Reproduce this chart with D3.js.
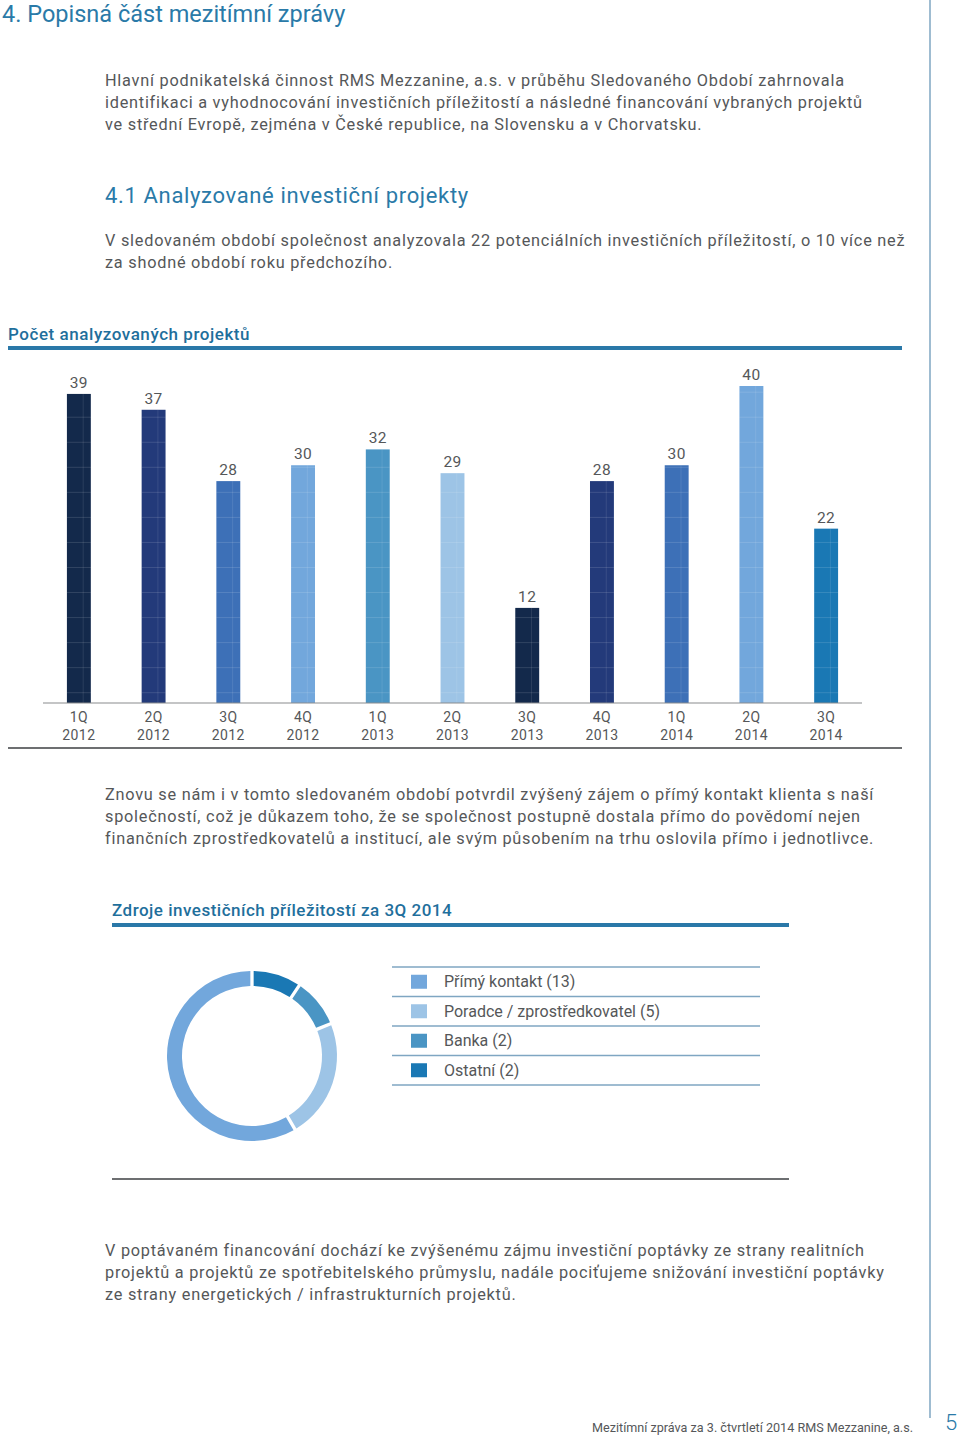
<!DOCTYPE html>
<html><head><meta charset="utf-8">
<script src="https://cdn.jsdelivr.net/npm/d3@7"></script>
<style>body{margin:0;background:#fff}svg{display:block}</style>
</head><body>
<svg id="page" width="960" height="1436"></svg>
<script>
// ---- data ----
const quarters = ["1Q","2Q","3Q","4Q","1Q","2Q","3Q","4Q","1Q","2Q","3Q"];
const years = ["2012","2012","2012","2012","2013","2013","2013","2013","2014","2014","2014"];
const projectCounts = [39,37,28,30,32,29,12,28,30,40,22];
const barColors = ["#13294b","#233a7a","#3d70b7","#72a7dc","#4a95c4","#9dc4e6","#13294b","#233a7a","#3d70b7","#72a7dc","#1a78b4"];
const sourceLabels = ["Přímý kontakt (13)","Poradce / zprostředkovatel (5)","Banka (2)","Ostatní (2)"];
const sourceValues = [13,5,2,2];
const sourceColors = ["#72a7dc","#9dc4e6","#4a95c4","#1a78b4"];
const donutOrder = [3,2,1,0]; // clockwise from top: Ostatní, Banka, Poradce, Přímý kontakt

const para1 = ["Hlavní podnikatelská činnost RMS Mezzanine, a.s. v průběhu Sledovaného Období zahrnovala",
"identifikaci a vyhodnocování investičních příležitostí a následné financování vybraných projektů",
"ve střední Evropě, zejména v České republice, na Slovensku a v Chorvatsku."];
const para2 = ["V sledovaném období společnost analyzovala 22 potenciálních investičních příležitostí, o 10 více než",
"za shodné období roku předchozího."];
const para3 = ["Znovu se nám i v tomto sledovaném období potvrdil zvýšený zájem o přímý kontakt klienta s naší",
"společností, což je důkazem toho, že se společnost postupně dostala přímo do povědomí nejen",
"finančních zprostředkovatelů a institucí, ale svým působením na trhu oslovila přímo i jednotlivce."];
const para4 = ["V poptávaném financování dochází ke zvýšenému zájmu investiční poptávky ze strany realitních",
"projektů a projektů ze spotřebitelského průmyslu, nadále pociťujeme snižování investiční poptávky",
"ze strany energetických / infrastrukturních projektů."];

const FONT = "Roboto, 'Open Sans', sans-serif";
const TXT = "#555759";
const BLUE = "#2a7aa8";
const svg = d3.select("#page").style("font-family", FONT);

// page frame
svg.append("line").attr("x1",930).attr("x2",930).attr("y1",0).attr("y2",1418)
  .attr("stroke","#7fa6c2").attr("stroke-width",1.5);
svg.append("text").attr("x",945).attr("y",1430).attr("font-size",22).attr("font-weight",300)
  .attr("fill",BLUE).text("5");
svg.append("text").attr("x",913).attr("y",1432).attr("text-anchor","end").attr("font-size",12.6)
  .attr("fill",TXT).text("Mezitímní zpráva za 3. čtvrtletí 2014 RMS Mezzanine, a.s.");

svg.append("text").attr("x",2).attr("y",22).attr("font-size",23.5).attr("fill",BLUE)
  .text("4. Popisná část mezitímní zprávy");
svg.append("text").attr("x",105).attr("y",203).attr("font-size",22).attr("letter-spacing",0.65).attr("fill",BLUE)
  .text("4.1 Analyzované investiční projekty");

function para(lines, x, y0){
  lines.forEach((l,i)=>{
    svg.append("text").attr("x",x).attr("y",y0+i*22).attr("font-size",16.3)
      .attr("letter-spacing",0.76).attr("fill",TXT).text(l);
  });
}
para(para1,105,86);
para(para2,105,246);
para(para3,105,800);
para(para4,105,1256);

// ---- bar chart ----
const bx = d3.scaleBand().domain(d3.range(projectCounts.length)).range([43,862]).paddingInner(0.68).paddingOuter(0.32);
const by = d3.scaleLinear().domain([0,40]).range([703,386]);

svg.append("text").attr("x",8).attr("y",340).attr("font-size",17).attr("font-weight",500)
  .attr("letter-spacing",0.55).attr("fill","#1f6f9c").text("Počet analyzovaných projektů");
svg.append("rect").attr("x",8).attr("y",346).attr("width",894).attr("height",4).attr("fill","#2a78a8");

const g = svg.append("g");
g.selectAll("rect.bar").data(projectCounts).join("rect").attr("class","bar")
  .attr("x",(d,i)=>bx(i)).attr("width",bx.bandwidth())
  .attr("y",d=>by(d)).attr("height",d=>by(0)-by(d))
  .attr("fill",(d,i)=>barColors[i]);
// faint grid lines visible on bars
const gridVals = d3.range(1.3,40,3.16);
projectCounts.forEach((d,i)=>{
  gridVals.filter(v=>v<d).forEach(v=>{
    g.append("line").attr("x1",bx(i)).attr("x2",bx(i)+bx.bandwidth())
      .attr("y1",by(v)).attr("y2",by(v)).attr("stroke","#fff").attr("stroke-opacity",0.13);
  });
  g.append("line").attr("x1",bx(i)+bx.bandwidth()*0.68).attr("x2",bx(i)+bx.bandwidth()*0.68)
    .attr("y1",by(d)).attr("y2",by(0)).attr("stroke","#fff").attr("stroke-opacity",0.1);
});
g.selectAll("text.val").data(projectCounts).join("text").attr("class","val")
  .attr("x",(d,i)=>bx(i)+bx.bandwidth()/2).attr("y",d=>by(d)-6)
  .attr("text-anchor","middle").attr("font-size",15.5).attr("letter-spacing",0.4).attr("fill",TXT).text(d=>d);

const xAxis = d3.axisBottom(bx).tickSize(0).tickFormat(()=> "");
const ax = svg.append("g").attr("transform","translate(0,703)").call(xAxis);
ax.select(".domain").attr("stroke","#8a8c8e").attr("stroke-width",1.2).attr("d","M43,0H862");
ax.selectAll(".tick").each(function(i){
  const t = d3.select(this).select("text").attr("fill",TXT).attr("font-size",14).attr("letter-spacing",0.4)
    .attr("font-family",FONT).attr("dy",null).attr("y",null);
  t.text(null);
  t.append("tspan").attr("x",0).attr("y",19).text(quarters[i]);
  t.append("tspan").attr("x",0).attr("y",37).text(years[i]);
});
svg.append("rect").attr("x",8).attr("y",747).attr("width",894).attr("height",2).attr("fill","#6d6f71");

// ---- donut ----
svg.append("text").attr("x",112).attr("y",916).attr("font-size",17).attr("font-weight",500)
  .attr("letter-spacing",0.5).attr("fill","#1f6f9c").text("Zdroje investičních příležitostí za 3Q 2014");
svg.append("rect").attr("x",112).attr("y",923).attr("width",677).attr("height",4).attr("fill","#2a78a8");
svg.append("rect").attr("x",112).attr("y",1178).attr("width",677).attr("height",2).attr("fill","#6d6f71");

const ordered = donutOrder.map(k=>({v:sourceValues[k],c:sourceColors[k]}));
const pie = d3.pie().value(d=>d.v).sort(null).padAngle(0.03);
const arc = d3.arc().innerRadius(70).outerRadius(85);
svg.append("g").attr("transform","translate(252,1056)")
  .selectAll("path").data(pie(ordered)).join("path")
  .attr("d",arc).attr("fill",d=>d.data.c);

// legend
const ly = d3.scalePoint().domain(d3.range(sourceLabels.length+1)).range([967,1085]);
d3.range(sourceLabels.length+1).forEach(i=>{
  svg.append("line").attr("x1",392).attr("x2",760).attr("y1",ly(i)).attr("y2",ly(i))
    .attr("stroke","#7fa6c2").attr("stroke-width",1.5);
});
const step = ly.step();
sourceLabels.forEach((s,i)=>{
  const cy = ly(i)+step/2;
  svg.append("rect").attr("x",411).attr("y",cy-7).attr("width",16).attr("height",14).attr("fill",sourceColors[i]);
  svg.append("text").attr("x",444).attr("y",cy+5.5).attr("font-size",16).attr("fill",TXT).text(s);
});
</script>
</body></html>
